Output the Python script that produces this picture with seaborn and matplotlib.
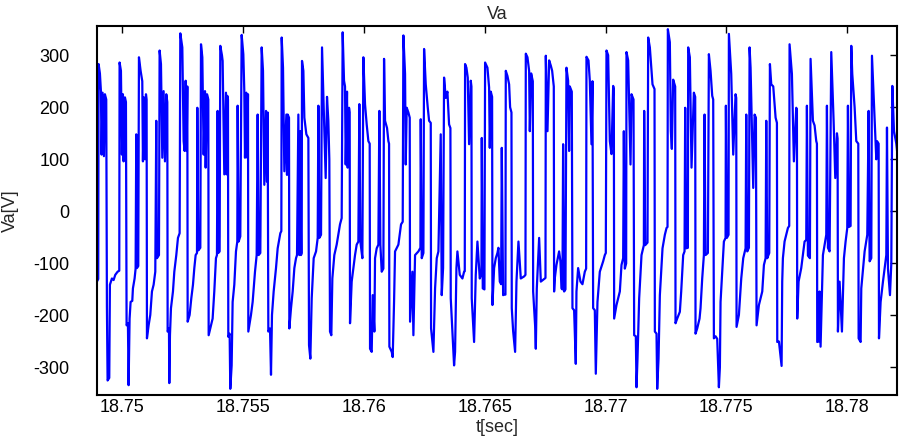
import numpy as np
import pandas as pd
import seaborn as sns
import matplotlib.pyplot as plt

# time in ms after 18.748 s
t_ms = [
    0.958, 1.013, 1.027, 1.082, 1.124, 1.151, 1.193, 1.248, 1.289, 1.344, 1.372, 1.400, 1.469, 1.496,
    1.579, 1.648, 1.717, 1.814, 1.883, 1.896, 1.952, 1.993, 2.034, 2.062, 2.117, 2.159, 2.186, 2.241,
    2.269, 2.310, 2.352, 2.421, 2.448, 2.517, 2.559, 2.586, 2.614, 2.669, 2.697, 2.766, 2.835, 2.862,
    2.904, 2.945, 2.987, 3.014, 3.028, 3.097, 3.166, 3.235, 3.304, 3.373, 3.414, 3.442, 3.525, 3.552,
    3.608, 3.663, 3.718, 3.773, 3.828, 3.870, 3.884, 3.939, 3.953, 3.980, 4.022, 4.104, 4.160, 4.242,
    4.311, 4.380, 4.408, 4.491, 4.546, 4.587, 4.629, 4.670, 4.698, 4.712, 4.794, 4.863, 4.932, 4.988,
    5.043, 5.098, 5.112, 5.153, 5.236, 5.264, 5.319, 5.374, 5.429, 5.457, 5.512, 5.567, 5.581,
    5.676, 5.745, 5.814, 5.883, 5.924, 5.952, 5.980, 6.035, 6.062, 6.131, 6.159, 6.228, 6.297, 6.325,
    6.352, 6.380, 6.394, 6.449, 6.476, 6.532, 6.573, 6.642, 6.711, 6.766, 6.780, 6.821, 6.890, 6.946,
    7.015, 7.056, 7.084, 7.139, 7.180, 7.208, 7.222, 7.263, 7.332, 7.401, 7.498, 7.567, 7.608, 7.649,
    7.718, 7.774, 7.829, 7.884, 7.953, 7.994, 8.022, 8.050, 8.119, 8.160, 8.201, 8.270, 8.367, 8.436,
    8.546, 8.588, 8.602, 8.657, 8.712, 8.795, 8.822, 8.850, 8.905, 8.919, 8.988, 9.057, 9.126, 9.195,
    9.236, 9.292, 9.333, 9.374, 9.402, 9.430, 9.443, 9.499, 9.540, 9.623, 9.706, 9.733, 9.788, 9.844,
    9.926, 10.023, 10.092, 10.120, 10.161, 10.230, 10.271,
    10.422, 10.477, 10.532, 10.573, 10.601, 10.656, 10.698, 10.780, 10.877, 10.946, 11.015, 11.084,
    11.125, 11.181, 11.222, 11.250, 11.305, 11.332, 11.388, 11.415, 11.429, 11.498, 11.567, 11.636,
    11.705, 11.774, 11.815, 11.857, 11.940, 11.981, 12.050, 12.119, 12.188, 12.243, 12.257, 12.326,
    12.367, 12.436, 12.464, 12.533, 12.602, 12.643, 12.685, 12.740, 12.809, 12.837, 12.878, 12.961,
    13.016, 13.044, 13.057, 13.154, 13.195, 13.251, 13.292, 13.430, 13.540, 13.609, 13.637, 13.706,
    13.734, 13.775, 13.844, 13.899, 13.913, 14.010, 14.051, 14.120, 14.258, 14.341, 14.355, 14.396,
    14.465, 14.493, 14.562, 14.644, 14.700, 14.769, 14.782, 14.879, 14.948, 15.017, 15.086,
    15.182, 15.223, 15.279, 15.320, 15.389, 15.458, 15.527, 15.582, 15.596, 15.665, 15.734, 15.775,
    15.831, 15.872, 15.969, 16.079, 16.148, 16.176, 16.189, 16.245, 16.300, 16.355, 16.424, 16.452,
    16.465, 16.562, 16.631, 16.700, 16.797, 16.866, 16.880, 16.921, 16.990, 17.017, 17.114, 17.183,
    17.211, 17.252, 17.307, 17.321, 17.390, 17.459, 17.528, 17.569, 17.625, 17.680, 17.707, 17.763,
    17.818, 17.859, 17.873, 17.942, 18.011, 18.052, 18.108, 18.121, 18.177, 18.259, 18.315, 18.397,
    18.494, 18.632, 18.687, 18.701, 18.770, 18.839, 18.867, 18.922, 18.991, 19.005, 19.087, 19.115,
    19.156, 19.253, 19.322, 19.460, 19.515, 19.529, 19.598, 19.667, 19.736, 19.791,
    19.859, 19.872, 19.900, 19.969, 20.079, 20.135, 20.176, 20.217, 20.245, 20.286, 20.342, 20.383,
    20.452, 20.493, 20.521, 20.604, 20.631, 20.700, 20.769, 20.797, 20.866, 20.963, 21.045, 21.142,
    21.197, 21.211, 21.294, 21.349, 21.418, 21.459, 21.487, 21.556, 21.597, 21.666, 21.763, 21.901,
    21.970, 22.011, 22.039, 22.108, 22.177, 22.246, 22.315, 22.343, 22.356, 22.453, 22.591, 22.660,
    22.729, 22.757, 22.798, 22.853, 22.867, 22.936, 23.033, 23.074, 23.157, 23.184, 23.253, 23.281,
    23.322, 23.391, 23.488, 23.557, 23.585, 23.598, 23.640, 23.736, 23.764, 23.833, 23.943, 24.026,
    24.040, 24.109, 24.137, 24.192, 24.247, 24.357, 24.454, 24.523,
    24.564, 24.578, 24.660, 24.702, 24.743, 24.798, 24.881, 24.895, 24.964, 25.074, 25.130, 25.212,
    25.268, 25.295, 25.337, 25.406, 25.419, 25.488, 25.557, 25.654, 25.709, 25.723, 25.792, 25.889,
    25.930, 25.999, 26.068, 26.096, 26.137, 26.234, 26.275, 26.344, 26.413, 26.454, 26.482, 26.551,
    26.620, 26.689, 26.730, 26.758, 26.896, 26.965, 26.979, 27.020, 27.089, 27.103, 27.200, 27.282,
    27.379, 27.407, 27.420, 27.517, 27.614, 27.696, 27.793, 27.821, 27.862, 27.931, 27.959, 28.000,
    28.110, 28.166, 28.221, 28.248, 28.345, 28.483, 28.552, 28.621, 28.649, 28.690, 28.773, 28.800,
    28.856, 28.938, 29.035, 29.090, 29.104, 29.173, 29.283,
    29.309, 29.337, 29.406, 29.475, 29.544, 29.599, 29.613, 29.710, 29.792, 29.889, 29.917, 29.930,
    29.986, 30.096, 30.165, 30.234, 30.303, 30.331, 30.372, 30.455, 30.482, 30.579, 30.648, 30.717,
    30.745, 30.758, 30.827, 30.855, 30.896, 30.993, 31.062, 31.131, 31.159, 31.200, 31.269, 31.338,
    31.435, 31.504, 31.573, 31.600, 31.614, 31.683, 31.780, 31.862, 31.931, 32.000, 32.028, 32.069,
    32.138, 32.166, 32.207, 32.304, 32.373, 32.456, 32.470, 32.552, 32.580, 32.718, 32.828, 32.884,
    32.925, 32.994, 33.022, 33.132, 33.201, 33.229, 33.298, 33.312, 33.380, 33.477, 33.615, 33.643,
    33.684, 33.767, 33.822, 33.864, 33.933, 34.029, 34.098, 34.126,
]

va = [
    -135, -130, 283, 265, 231, 109, 228, 106, 225, 215, -183, -325, -320, -141,
    -129, -132, -122, -116, -114, 286, 270, 109, 225, 96, 219, 210, -219, -215,
    -334, -206, -174, -172, -148, -129, -110, 148, -109, -105, 296, 270, 250, 96,
    219, 100, 225, 215, -244, -219, -199, -154, -141, -116, 174, -90, -84, 309,
    283, 103, 231, 96, 225, 210, -231, -225, -330, -238, -186, -154, -116, -84,
    -51, -42, 342, 315, 135, 116, 251, 116, 240, -212, -199, -167, -141, -109,
    -84, -80, 199, -75, -70, 321, 296, 109, 231, 84, 225, 215, -238,
    -219, -206, -154, -90, -84, 193, -80, -77, 318, 300, 289, 71, 228, 71,
    222, 215, -241, -235, -341, -296, -174, -141, -77, -58, 203, -58, -48, 339,
    302, 231, 103, 228, 103, 225, -231, -219, -199, -174, -116, -84, 186, -84,
    -80, 315, 270, 51, 193, 57, 190, -231, -225, -314, -199, -154, -109, -71,
    -42, -38, 334, 276, 77, 186, 70, 186, 180, -225, -186, -154, -109, -90,
    -84, 186, -84, 154, -84, -80, 289, 270, 180, 148, 141, -257, -283, -167,
    -90, -77, -51, 203, -51, -45, 315,
    64, 220, 174, 100, -231, -238, -129, -84, -64, -45, -25, -13,
    344, 251, 240, 90, 230, 84, 199, 190, -215, -135, -109, -84,
    -64, -58, 206, -58, -90, 296, 206, 167, 135, 130, -264, -270,
    -161, -231, -90, -71, -64, 193, -64, -116, -110, 293, 174, 160,
    135, 130, -260, -270, -280, -174, -77, -64, -25, -20, 338, 264,
    90, 199, 190, 180, -212, -116, -238, -84, -77, -70, 177, -90,
    -80, 312, 244, 200, 174, 170, -225, -270, -148, -90, -77,
    148, -161, -109, 257, 218, 230, 167, 160, -167, -231, -296, -270,
    -109, -77, -122, -129, -116, -115, 283, 276, 257, 129, 251, 240,
    -167, -251, -122, -58, -129, -120, 141, -148, -150, 286, 276, 238,
    122, 230, 220, -180, -109, -90, -80, -70, -135, -140, 122, -161,
    -160, -160, 270, 260, 244, 200, 190, -186, -230, -270, -135, -58,
    -129, -125, -122, 303, 296, 270, 154, 265, 250, -154, -220, -264,
    -148, -51, -135, -130, -128, 299, 154, 290, 280, 270,
    240, -154, -129, -103, -77, -96, -148, -150, 129, -154, -150, 276,
    251, 116, 240, 230, -186, -190, -293, -154, -109, -135, -140, -116,
    -110, 297, 290, 251, 129, 250, -186, -190, -312, -174, -116, -96,
    -84, -80, 309, 300, 135, 110, 241, 235, -206, -180, -154, -103,
    -90, 154, -110, -100, 306, 290, 90, 225, 215, -238, -240, -338,
    -283, -167, -84, -71, -65, 193, -65, -60, 334, 315, 244, 235,
    -231, -235, -341, -283, -161, -71, -45, -32,
    -30, 350, 325, 154, 120, 253, 240, -215, -206, -193, -154, -84,
    -77, 199, -71, -70, 315, 296, 84, 228, 220, -235, -225, -206,
    -186, -129, -84, 186, -84, -80, 302, 270, 222, 215, -244, -240,
    -245, -338, -300, -174, -58, -51, 203, -51, -45, 341, 264, 109,
    225, 218, -222, -199, -129, -90, -71, 186, -77, -70, 315, 276,
    45, 186, 180, -219, -180, -154, -103, -90, 174, -90, -80, 283,
    244, 240, 180, 170, -251, -250, -297,
    -135, -90, -58, -45, -32, -28, 321, 264, 96, 199, 195, -206,
    -135, -109, -84, -58, -55, 203, -85, -90, 293, 174, 165, 135,
    130, -251, -250, -154, -260, -84, -64, -45, 203, -70, -77, 306,
    174, 64, 150, 140, -231, -135, -231, -90, -58, -32, 203, -30,
    -28, 318, 264, 200, 135, 130, -244, -251, -148, -77, -45, 193,
    -96, -90, 299, 174, 100, 135, 130, -244, -174, -135, -84, 161,
    -110, -161, -100, 241, 154, 130, 100, -260,
]

x_ticks = [18.75, 18.755, 18.76, 18.765, 18.77, 18.775, 18.78]
x_tick_labels = ['18.75', '18.755', '18.76', '18.765', '18.77', '18.775', '18.78']
y_ticks = [-300, -200, -100, 0, 100, 200, 300]

df = pd.DataFrame({'t': 18.748 + np.array(t_ms) / 1000.0, 'va': va})

sns.set_style('white')
plt.rcParams['font.family'] = ['Liberation Sans', 'DejaVu Sans']
plt.rcParams['axes.unicode_minus'] = False

fig = plt.figure(figsize=(9, 4.38), dpi=100)
ax = fig.add_axes([0.108, 0.098, 0.889, 0.8425])
sns.lineplot(data=df, x='t', y='va', sort=False, estimator=None,
             color='#0000ff', linewidth=1.6, ax=ax)

ax.set_xlim(18.74897, 18.78207)
ax.set_ylim(-353, 356)
ax.set_xticks(x_ticks)
ax.set_xticklabels(x_tick_labels)
ax.set_yticks(y_ticks)
ax.tick_params(direction='in', top=True, right=True, length=5, width=1,
               labelsize=13, colors='black')
ax.tick_params(axis='y', pad=20)
ax.tick_params(axis='x', pad=3)
for s in ax.spines.values():
    s.set_linewidth(1.5)
    s.set_color('black')

ax.set_title('Va', fontsize=13, pad=5)
ax.set_xlabel('t[sec]', fontsize=13, labelpad=2)
ax.set_ylabel('Va[V]', fontsize=13)
ax.yaxis.set_label_coords(-0.098, 0.5)

fig.savefig('out.png', dpi=100)
